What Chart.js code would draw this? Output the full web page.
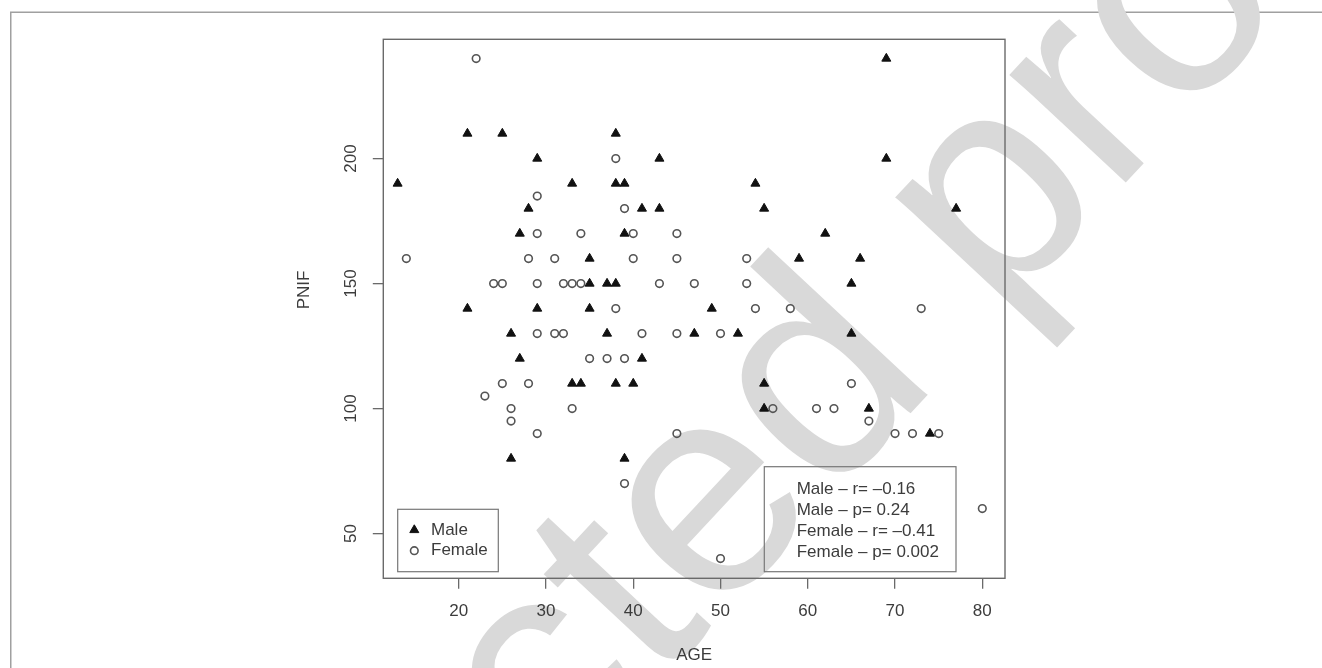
<!DOCTYPE html>
<html>
<head>
<meta charset="utf-8">
<title>PNIF vs AGE</title>
<script src="https://cdn.jsdelivr.net/npm/chart.js@4.4.1/dist/chart.umd.min.js"></script>
<style>
  html, body { margin: 0; padding: 0; background: #fff; }
  canvas { display: block; }
</style>
</head>
<body>
<canvas id="chart" width="1322" height="668"></canvas>
<script>
// data
const maleAge = [21, 25, 38, 29, 43, 69, 69, 13, 33, 38, 39, 54, 28, 41, 43, 55, 77, 27, 39, 62,
  35, 59, 66, 35, 37, 38, 65, 21, 29, 35, 49, 26, 37, 47, 52, 65, 27, 41, 33, 34, 38, 40, 55,
  55, 67, 74, 26, 39];
const malePnif = [210, 210, 210, 200, 200, 200, 240, 190, 190, 190, 190, 190, 180, 180, 180, 180, 180, 170, 170, 170,
  160, 160, 160, 150, 150, 150, 150, 140, 140, 140, 140, 130, 130, 130, 130, 130, 120, 120, 110, 110, 110, 110, 110,
  100, 100, 90, 80, 80];

const femaleAge = [22, 38, 29, 39, 29, 34, 40, 45, 14, 28, 31, 40, 45, 53,
  24, 25, 29, 32, 33, 34, 43, 47, 53, 38, 54, 58, 73, 29, 31, 32, 41, 45, 50,
  35, 37, 39, 25, 28, 65, 23, 26, 33, 56, 61, 63, 26, 67, 29, 45, 70, 72, 75,
  39, 80, 50];
const femalePnif = [240, 200, 185, 180, 170, 170, 170, 170, 160, 160, 160, 160, 160, 160,
  150, 150, 150, 150, 150, 150, 150, 150, 150, 140, 140, 140, 140, 130, 130, 130, 130, 130, 130,
  120, 120, 120, 110, 110, 110, 105, 100, 100, 100, 100, 100, 95, 95, 90, 90, 90, 90, 90,
  70, 60, 40];

const ageTicks = [20, 30, 40, 50, 60, 70, 80];
const pnifTicks = [50, 100, 150, 200];
const groupNames = ["Male", "Female"];
const statLines = ["Male \u2013 r= \u20130.16", "Male \u2013 p= 0.24", "Female \u2013 r= \u20130.41", "Female \u2013 p= 0.002"];

const X_MIN = 11.36, X_MAX = 82.6;
const Y_MIN = 32.1, Y_MAX = 247.7;

const FONT = "'Liberation Sans', Arial, Helvetica, sans-serif";
const textGray = "#3c3c3c";
const axisGray = "#6a6a6a";

function toPoints(xs, ys) {
  return xs.map((x, i) => ({ x: x, y: ys[i] }));
}

// page frame, watermark, plot box and the two keys
const decorations = {
  id: "decorations",
  beforeDraw(chart) {
    const ctx = chart.ctx;
    ctx.save();
    ctx.fillStyle = "#fff";
    ctx.fillRect(0, 0, chart.width, chart.height);

    ctx.strokeStyle = "#a0a0a0";
    ctx.lineWidth = 1.5;
    ctx.beginPath();
    ctx.moveTo(10.75, chart.height);
    ctx.lineTo(10.75, 12.25);
    ctx.lineTo(chart.width, 12.25);
    ctx.stroke();

    // watermark
    const fs = 300;
    ctx.font = fs + "px " + FONT;
    ctx.fillStyle = "#d9d9d9";
    ctx.translate(567, 553);
    ctx.rotate(-47 * Math.PI / 180);
    const pre = ctx.measureText("Uncorrec").width;
    ctx.textBaseline = "alphabetic";
    ctx.fillText("Uncorrected proof", -pre - 0.12 * fs, 0.52 * fs);
    ctx.restore();
  },
  afterDatasetsDraw(chart) {
    const ctx = chart.ctx;
    const ca = chart.chartArea;
    ctx.save();
    ctx.strokeStyle = axisGray;
    ctx.lineWidth = 1.4;
    ctx.strokeRect(ca.left, ca.top, ca.right - ca.left, ca.bottom - ca.top);

    ctx.font = "17px " + FONT;
    ctx.textBaseline = "middle";
    ctx.textAlign = "left";

    // group key, bottom left
    const kw = 100.6, kh = 62.4;
    const kx = ca.left + 14.4, ky = ca.bottom - 6.6 - kh;
    ctx.lineWidth = 1.2;
    ctx.strokeStyle = "#777";
    ctx.strokeRect(kx, ky, kw, kh);
    chart.data.datasets.forEach((ds, i) => {
      const y = ky + 20.7 + i * 20.7;
      ctx.fillStyle = ds.backgroundColor;
      ctx.strokeStyle = ds.borderColor;
      ctx.lineWidth = ds.borderWidth;
      Chart.helpers.drawPoint(ctx, { pointStyle: ds.pointStyle, radius: ds.pointRadius, rotation: 0, borderWidth: ds.borderWidth }, kx + 16.6, y);
      ctx.fillStyle = textGray;
      ctx.fillText(ds.label, kx + 33.3, y);
    });

    // statistics key, bottom right
    const sw = 191.7, sh = 105;
    const sx = ca.right - 49 - sw, sy = ca.bottom - 6.6 - sh;
    ctx.lineWidth = 1.2;
    ctx.strokeStyle = "#777";
    ctx.strokeRect(sx, sy, sw, sh);
    ctx.fillStyle = textGray;
    statLines.forEach((line, i) => {
      ctx.fillText(line, sx + 32.4, sy + 22.3 + i * 21);
    });
    ctx.restore();
  }
};

const tickFont = { family: FONT, size: 17 };

new Chart(document.getElementById("chart"), {
  type: "scatter",
  data: {
    datasets: [
      {
        label: groupNames[0],
        data: toPoints(maleAge, malePnif),
        pointStyle: "triangle",
        pointRadius: 5.2,
        backgroundColor: "#111",
        borderColor: "#111",
        borderWidth: 1
      },
      {
        label: groupNames[1],
        data: toPoints(femaleAge, femalePnif),
        pointStyle: "circle",
        pointRadius: 3.8,
        backgroundColor: "rgba(0,0,0,0)",
        borderColor: "#555",
        borderWidth: 1.6
      }
    ]
  },
  options: {
    responsive: false,
    animation: false,
    devicePixelRatio: 1,
    layout: { padding: { left: 280, right: 317, top: 39.3, bottom: 0 } },
    plugins: {
      legend: { display: false },
      tooltip: { enabled: false }
    },
    scales: {
      x: {
        type: "linear",
        min: X_MIN,
        max: X_MAX,
        afterBuildTicks: s => { s.ticks = ageTicks.map(v => ({ value: v })); },
        afterFit: s => { s.height = 89.7; },
        grid: { drawOnChartArea: false, drawTicks: true, tickLength: 10.5, color: axisGray, lineWidth: 1.3 },
        border: { display: false },
        ticks: { color: textGray, font: tickFont, padding: 12.7, maxRotation: 0 },
        title: { display: true, text: "AGE", color: textGray, font: tickFont, padding: { top: 0, bottom: 2.8 } }
      },
      y: {
        type: "linear",
        min: Y_MIN,
        max: Y_MAX,
        afterBuildTicks: s => { s.ticks = pnifTicks.map(v => ({ value: v })); },
        afterFit: s => { s.width = 103.3; },
        grid: { drawOnChartArea: false, drawTicks: true, tickLength: 10.5, color: axisGray, lineWidth: 1.3 },
        border: { display: false },
        ticks: { color: textGray, font: tickFont, minRotation: 90, maxRotation: 90, crossAlign: "center", padding: 7 },
        // leading spaces lift the rotated title a little above the plot centre, as in the source
        title: { display: true, text: "        PNIF", color: textGray, font: tickFont, padding: { top: 14.3, bottom: 0 } }
      }
    }
  },
  plugins: [decorations]
});
</script>
</body>
</html>
